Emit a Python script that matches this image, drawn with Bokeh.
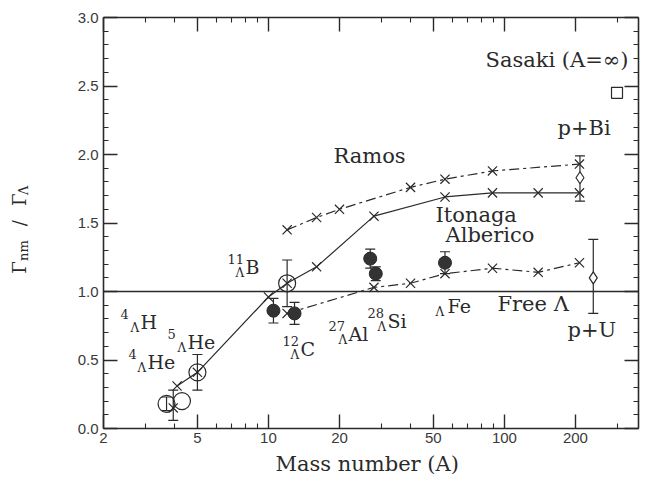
import math
from bokeh.plotting import figure
from bokeh.layouts import row, column
from bokeh.core.properties import value
from bokeh.models import (Range1d, LogAxis, LinearAxis, FixedTicker, Span, Whisker,
                          ColumnDataSource, Label, BasicTickFormatter, PrintfTickFormatter, TeeHead)
from bokeh.embed import file_html
from bokeh.resources import INLINE

# ---------------- data ----------------
itonaga_A = [4.1, 5, 10, 12, 16, 28, 56, 89, 139, 208]
itonaga_R = [0.31, 0.41, 0.96, 1.06, 1.18, 1.55, 1.69, 1.72, 1.72, 1.72]

ramos_A = [12, 16, 20, 40, 56, 89, 208]
ramos_R = [1.45, 1.54, 1.60, 1.76, 1.82, 1.88, 1.93]

alberico_A = [12, 28, 40, 56, 89, 139, 208]
alberico_R = [0.84, 1.03, 1.06, 1.13, 1.17, 1.14, 1.21]

open_A = [3.7, 4.3, 5, 12]
open_R = [0.18, 0.20, 0.41, 1.06]
open_err = [0.05, 0.0, 0.13, 0.17]

filled_A = [10.5, 12.9, 27, 28.5, 56]
filled_R = [0.86, 0.84, 1.24, 1.13, 1.21]
filled_err = [0.09, 0.08, 0.07, 0.05, 0.08]

cross_A = [3.95]
cross_R = [0.15]
cross_lo = [0.06]
cross_hi = [0.28]

pnuc_A = [209, 238]          # p+Bi, p+U
pnuc_R = [1.83, 1.10]
pnuc_lo = [1.66, 0.84]
pnuc_hi = [1.99, 1.38]

sasaki_A = [300]
sasaki_R = [2.45]

free_lambda = 1.0

x_ticks = [2, 5, 10, 20, 50, 100, 200]
x_minor = [3, 4, 6, 7, 8, 9, 30, 40, 60, 70, 80, 90, 300]
y_ticks = [0.0, 0.5, 1.0, 1.5, 2.0, 2.5, 3.0]
y_minor = [round(0.1 * i, 1) for i in range(31)]

x_title = "Mass number (A)"

INK = "#2a2a2a"
SERIF = "DejaVu Serif"
YW = 40    # width of the strip holding the y-axis title
XH = 28    # height of the strip holding the x-axis title
PH = 477 - XH

p = figure(width=645 - YW, height=PH, x_axis_type="log",
           x_range=Range1d(2, 370), y_range=Range1d(0, 3),
           output_backend="svg", toolbar_location=None,
           min_border_left=103 - YW, min_border_right=7, min_border_top=17,
           min_border_bottom=PH - 428)
p.grid.visible = False
p.outline_line_color = None
p.background_fill_color = "white"
p.border_fill_color = "white"

p.add_layout(LogAxis(), "above")
p.add_layout(LinearAxis(), "right")

for ax in p.xaxis:
    ax.ticker = FixedTicker(ticks=x_ticks, minor_ticks=x_minor)
    ax.formatter = BasicTickFormatter()
for ax in p.yaxis:
    ax.ticker = FixedTicker(ticks=y_ticks, minor_ticks=y_minor)
    ax.formatter = PrintfTickFormatter(format="%.1f")

for ax in list(p.xaxis) + list(p.yaxis):
    ax.axis_line_color = INK
    ax.axis_line_width = 1.6
    ax.major_tick_line_color = INK
    ax.minor_tick_line_color = INK
    ax.major_tick_line_width = 1.4
    ax.minor_tick_line_width = 1.1
    ax.major_tick_in = 14
    ax.major_tick_out = 0
    ax.minor_tick_in = 5
    ax.minor_tick_out = 0
    ax.major_label_text_font = "Liberation Sans"
    ax.major_label_text_font_size = "15px"
    ax.major_label_text_color = "#3a3a3a"

p.below[0].major_label_standoff = 4
p.left[0].major_label_standoff = 5
for ax in (p.above[0], p.right[0]):
    ax.major_label_text_color = None
    ax.major_label_text_font_size = "1px"
    ax.major_label_standoff = 0

# free Lambda line
p.add_layout(Span(location=free_lambda, dimension="width", line_color=INK, line_width=1.4))

# theory curves
p.line(itonaga_A, itonaga_R, line_color=INK, line_width=1.2)
p.scatter(itonaga_A, itonaga_R, marker="x", size=13, line_color=INK, line_width=1.2)
p.line(ramos_A, ramos_R, line_color=INK, line_width=1.2, line_dash="10 4 3 4")
p.scatter(ramos_A, ramos_R, marker="x", size=13, line_color=INK, line_width=1.2)
p.line(alberico_A, alberico_R, line_color=INK, line_width=1.2, line_dash="10 4 3 4")
p.scatter(alberico_A, alberico_R, marker="x", size=13, line_color=INK, line_width=1.2)

def whisk(xs, lo, hi):
    src = ColumnDataSource(dict(x=xs, lo=lo, hi=hi))
    p.add_layout(Whisker(source=src, base="x", lower="lo", upper="hi", dimension="height",
                         line_color=INK, line_width=1.2,
                         upper_head=TeeHead(size=10, line_color=INK, line_width=1.2),
                         lower_head=TeeHead(size=10, line_color=INK, line_width=1.2)))

# open circles (data)
oi = [i for i, e in enumerate(open_err) if e > 0]
whisk([open_A[i] for i in oi], [open_R[i] - open_err[i] for i in oi],
      [open_R[i] + open_err[i] for i in oi])
p.scatter(open_A, open_R, marker="circle", size=17, fill_color=None, line_color=INK, line_width=1.2)

# filled circles
whisk(filled_A, [r - e for r, e in zip(filled_R, filled_err)],
      [r + e for r, e in zip(filled_R, filled_err)])
p.scatter(filled_A, filled_R, marker="circle", size=13, fill_color="#333333", line_color=INK)

# cross with error bar
whisk(cross_A, cross_lo, cross_hi)
p.scatter(cross_A, cross_R, marker="x", size=13, line_color=INK, line_width=1.2)

# p+Bi, p+U
whisk(pnuc_A, pnuc_lo, pnuc_hi)
p.scatter(pnuc_A, pnuc_R, marker="diamond", size=12, fill_color="white", line_color=INK, line_width=1.2)

# Sasaki
p.scatter(sasaki_A, sasaki_R, marker="square", size=11, fill_color=None, line_color=INK, line_width=1.2)

# ---------- text (X = left edge, B = baseline, in page pixels) ----------
def txt(X, B, s, size=21, font=SERIF):
    ymid = B - 0.35 * size
    p.add_layout(Label(x=X - 103, y=428 - ymid, x_units="screen", y_units="screen", text=s,
                       text_font=font, text_font_size=f"{size}px", text_color=INK,
                       text_baseline="middle", text_align="left"))

txt(333, 163, "Ramos")
txt(485, 67, "Sasaki (A=\u221e)")
txt(557, 135, "p+Bi")
txt(435, 222, "Itonaga")
txt(445, 242, "Alberico")
txt(497, 311, "Free \u039b")
txt(567, 337, "p+U")

def hyp(xn, xl, xe, B, num, elem):
    if num:
        txt(xn, B - 10, num, 13)
    txt(xl, B + 4, "\u039b", 12)
    txt(xe, B, elem, 19)

hyp(120, 130, 140, 328, "4", "H")
hyp(167, 177, 187, 348, "5", "He")
hyp(128, 137, 147, 368, "4", "He")
hyp(227, 235, 245, 273, "11", "B")
hyp(282, 290, 300, 355, "12", "C")
hyp(328, 338, 348, 340, "27", "Al")
hyp(367, 377, 387, 327, "28", "Si")
hyp(0, 435, 447, 312, "", "Fe")

def strip(w, h):
    f = figure(width=w, height=h, x_range=Range1d(0, w), y_range=Range1d(0, h),
               output_backend="svg", toolbar_location=None,
               min_border_left=0, min_border_right=0, min_border_top=0, min_border_bottom=0)
    f.axis.visible = False
    f.grid.visible = False
    f.outline_line_color = None
    f.background_fill_color = "white"
    f.border_fill_color = "white"
    return f

# ---------- y-axis title strip ----------
yf = strip(YW, PH)
SHIFT = 3

def vtxt(XB, Ystart, s, size):
    # XB: baseline x, Ystart: page y where the upward-reading text starts
    yf.text(x=[XB - 0.35 * size], y=[PH - Ystart - SHIFT], text=[s], angle=math.pi / 2,
            text_font=value(SERIF), text_font_size=value(f"{size}px"), text_color=INK,
            text_baseline="middle", text_align="left")

vtxt(25, 277, "\u0393", 18)
vtxt(28, 263, "nm", 13)
vtxt(25, 225, "/", 18)
vtxt(25, 203, "\u0393", 18)
vtxt(28, 191, "\u039b", 13)

# ---------- x-axis title strip ----------
XS = 21
xf = strip(645, XH)
xf.text(x=[275], y=[XH - (471 - 0.35 * XS - PH)], text=[x_title],
        text_font=value(SERIF), text_font_size=value(f"{XS}px"), text_color=INK,
        text_baseline="middle", text_align="left")

layout = column(row(yf, p, spacing=0), xf, spacing=0)
open("out.html", "w").write(file_html(layout, INLINE))
